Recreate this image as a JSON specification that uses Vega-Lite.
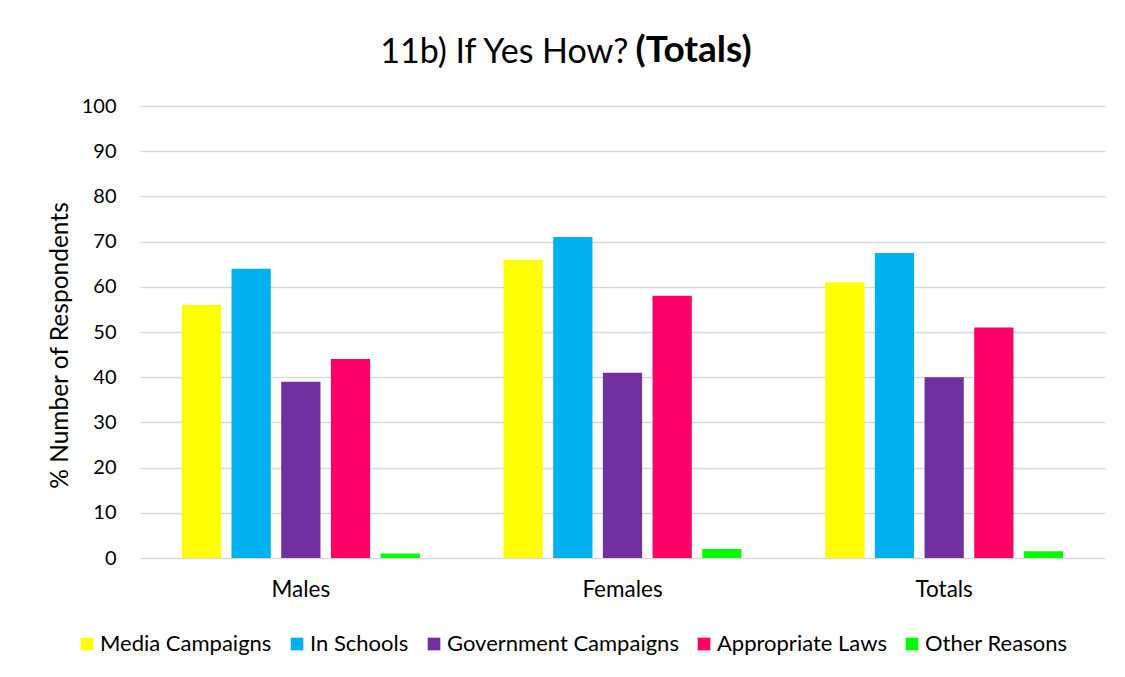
{
  "$schema": "https://vega.github.io/schema/vega-lite/v6.json",
  "width": 965,
  "height": 452,
  "autosize": {"type": "none"},
  "padding": {"left": 140, "top": 106, "right": 20, "bottom": 119},
  "background": "white",
  "title": {
    "text": "11b) If Yes How?",
    "subtitle": "(Totals)",
    "anchor": "middle",
    "fontSize": 34,
    "fontWeight": "normal",
    "font": "Lato",
    "color": "#000000",
    "subtitleFontSize": 37,
    "subtitleFontWeight": "bold",
    "subtitleFont": "Lato",
    "subtitleColor": "#000000",
    "subtitlePadding": -36.3,
    "dx": 6,
    "offset": 23,
    "encode": {
      "title": {"update": {"align": {"value": "right"}}},
      "subtitle": {"update": {"align": {"value": "left"}, "dx": {"value": 13}}}
    }
  },
  "data": {
    "values": [
      {"group": "Males", "reason": "Media Campaigns", "value": 56},
      {"group": "Males", "reason": "In Schools", "value": 64},
      {"group": "Males", "reason": "Government Campaigns", "value": 39},
      {"group": "Males", "reason": "Appropriate Laws", "value": 44},
      {"group": "Males", "reason": "Other Reasons", "value": 1},
      {"group": "Females", "reason": "Media Campaigns", "value": 66},
      {"group": "Females", "reason": "In Schools", "value": 71},
      {"group": "Females", "reason": "Government Campaigns", "value": 41},
      {"group": "Females", "reason": "Appropriate Laws", "value": 58},
      {"group": "Females", "reason": "Other Reasons", "value": 2},
      {"group": "Totals", "reason": "Media Campaigns", "value": 61},
      {"group": "Totals", "reason": "In Schools", "value": 67.5},
      {"group": "Totals", "reason": "Government Campaigns", "value": 40},
      {"group": "Totals", "reason": "Appropriate Laws", "value": 51},
      {"group": "Totals", "reason": "Other Reasons", "value": 1.5}
    ]
  },
  "mark": {"type": "bar"},
  "encoding": {
    "x": {
      "field": "group",
      "type": "nominal",
      "sort": ["Males", "Females", "Totals"],
      "scale": {"paddingInner": 0.26, "paddingOuter": 0.13},
      "axis": {
        "title": null,
        "labelAngle": 0,
        "labelFontSize": 22.5,
        "labelPadding": 20,
        "ticks": false,
        "domain": false,
        "grid": false,
        "labelColor": "#000000",
        "labelFont": "Lato"
      }
    },
    "xOffset": {
      "field": "reason",
      "type": "nominal",
      "sort": ["Media Campaigns", "In Schools", "Government Campaigns", "Appropriate Laws", "Other Reasons"],
      "scale": {"paddingInner": 0.21, "paddingOuter": 0}
    },
    "y": {
      "field": "value",
      "type": "quantitative",
      "scale": {"domain": [0, 100], "nice": false},
      "axis": {
        "values": [0, 10, 20, 30, 40, 50, 60, 70, 80, 90, 100],
        "title": "% Number of Respondents",
        "titleFont": "Lato",
        "titleFontSize": 24.5,
        "titleFontWeight": "normal",
        "titleColor": "#000000",
        "titlePadding": 9,
        "titleY": 239,
        "labelFont": "Lato",
        "labelFontSize": 20,
        "labelColor": "#000000",
        "labelPadding": 24,
        "ticks": false,
        "domain": false,
        "gridColor": "#d9d9d9",
        "gridWidth": 1.5
      }
    },
    "color": {
      "field": "reason",
      "type": "nominal",
      "sort": ["Media Campaigns", "In Schools", "Government Campaigns", "Appropriate Laws", "Other Reasons"],
      "scale": {
        "domain": ["Media Campaigns", "In Schools", "Government Campaigns", "Appropriate Laws", "Other Reasons"],
        "range": ["#FFFF00", "#00B0F0", "#7030A0", "#FF0066", "#00FF00"]
      },
      "legend": {
        "title": null,
        "orient": "none",
        "legendX": -64,
        "legendY": 527,
        "direction": "horizontal",
        "symbolType": "square",
        "symbolSize": 160,
        "symbolStrokeWidth": 0,
        "labelFont": "Lato",
        "labelFontSize": 22,
        "labelColor": "#000000",
        "labelOffset": 2,
        "columnPadding": 14,
        "labelLimit": 400
      }
    }
  },
  "config": {
    "view": {"stroke": null},
    "font": "Lato"
  }
}
